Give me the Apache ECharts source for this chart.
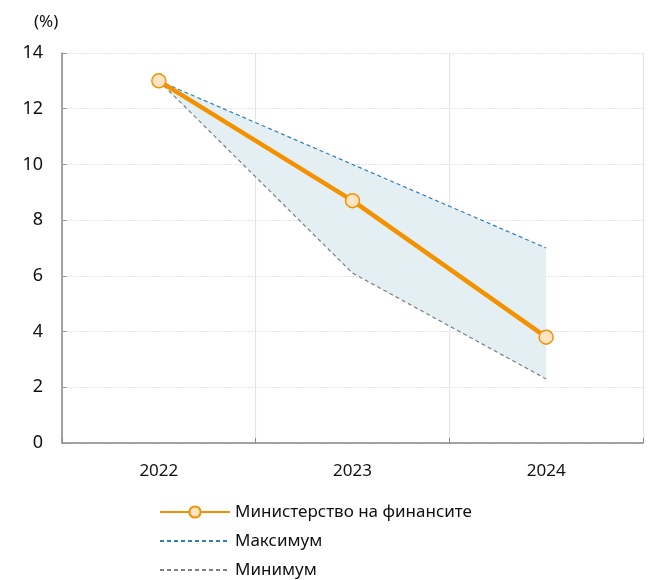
<!DOCTYPE html>
<html>
<head>
<meta charset="utf-8">
<script src="https://cdn.jsdelivr.net/npm/echarts@6/dist/echarts.min.js"></script>
<style>
  html, body { margin: 0; padding: 0; background: #fff; }
  #chart { width: 655px; height: 580px; }
</style>
</head>
<body>
<div id="chart"></div>
<script>
// Years on the horizontal axis
const years = ['2022', '2023', '2024'];
// Ministry of Finance forecast (%)
const ministry = [13.0, 8.7, 3.8];
// Upper and lower bounds of the range (%)
const maximum = [13.0, 10.0, 7.0];
const minimum = [13.0, 6.1, 2.3];
// Value-axis ticks
const yTicks = [0, 2, 4, 6, 8, 10, 12, 14];

const FONT = '"Noto Sans", "Open Sans", sans-serif';
const bandWidth = maximum.map((v, i) => +(v - minimum[i]).toFixed(2));

const chart = echarts.init(document.getElementById('chart'), null, { renderer: 'canvas' });

chart.setOption({
  animation: false,
  backgroundColor: '#ffffff',
  title: {
    text: '(%)',
    left: 29,
    top: 9,
    textStyle: { fontFamily: FONT, fontSize: 17, fontWeight: 'normal', color: '#111' }
  },
  grid: { left: 62, right: 12, top: 53, bottom: 137, containLabel: false },
  legend: {
    orient: 'vertical',
    left: 154,
    top: 497,
    height: 200,
    itemWidth: 70,
    itemHeight: 14,
    itemGap: 9,
    data: [
      { name: 'Министерство на финансите' },
      { name: 'Максимум', itemStyle: { opacity: 0 } },
      { name: 'Минимум', itemStyle: { opacity: 0 } }
    ],
    textStyle: { fontFamily: FONT, fontSize: 17, color: '#111', lineHeight: 20 }
  },
  xAxis: {
    type: 'category',
    data: years,
    boundaryGap: true,
    axisLine: { lineStyle: { color: '#888', width: 1.5 } },
    axisTick: { show: true, inside: true, length: 5, lineStyle: { color: '#888' } },
    axisLabel: { fontFamily: FONT, fontSize: 17, color: '#111', margin: 20 },
    splitLine: { show: true, lineStyle: { color: '#e4e4e4', width: 1.2 } }
  },
  yAxis: {
    type: 'value',
    min: yTicks[0],
    max: yTicks[yTicks.length - 1],
    interval: 2,
    axisLine: { show: true, lineStyle: { color: '#888', width: 1.5 } },
    axisTick: { show: true, inside: true, length: 5, lineStyle: { color: '#999' } },
    axisLabel: { fontFamily: FONT, fontSize: 18, color: '#111', margin: 19 },
    splitLine: { show: true, lineStyle: { color: '#e2e2e2', type: [2, 1], width: 1 } }
  },
  series: [
    {
      name: 'bandBase',
      type: 'line',
      stack: 'band',
      data: minimum,
      symbol: 'none',
      lineStyle: { opacity: 0 },
      silent: true,
      z: 1
    },
    {
      name: 'bandFill',
      type: 'line',
      stack: 'band',
      data: bandWidth,
      symbol: 'none',
      lineStyle: { opacity: 0 },
      areaStyle: { color: '#e3eff3', opacity: 1 },
      silent: true,
      z: 1
    },
    {
      name: 'Максимум',
      type: 'line',
      data: maximum,
      symbol: 'none',
      lineStyle: { color: '#2f7fb8', width: 1.2, type: [4, 3] },
      itemStyle: { color: '#2f7fb8' },
      z: 3
    },
    {
      name: 'Минимум',
      type: 'line',
      data: minimum,
      symbol: 'none',
      lineStyle: { color: '#7f7f7f', width: 1.2, type: [4, 3] },
      itemStyle: { color: '#7f7f7f' },
      z: 3
    },
    {
      name: 'Министерство на финансите',
      type: 'line',
      data: ministry,
      symbol: 'circle',
      symbolSize: 14,
      lineStyle: { color: '#f39200', width: 4.5 },
      itemStyle: { color: '#fde4c4', borderColor: '#f39200', borderWidth: 1.5 },
      z: 5
    }
  ]
});
</script>
</body>
</html>
